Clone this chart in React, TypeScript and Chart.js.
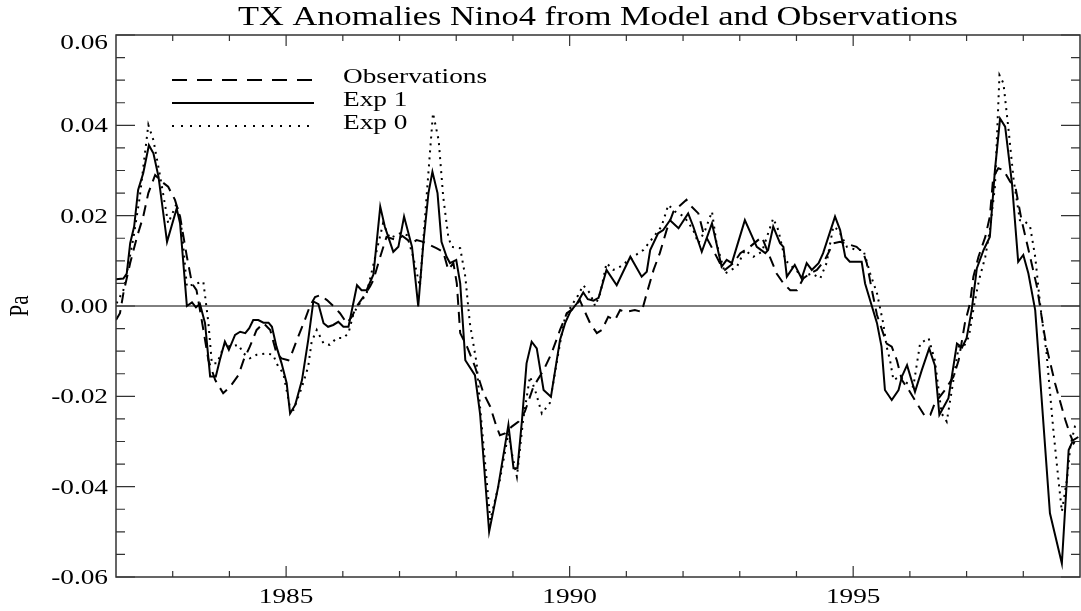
import React, { useEffect, useRef } from "react";
import { Chart, registerables } from "chart.js";

Chart.register(...registerables);

const chartTitle = "TX Anomalies Nino4 from Model and Observations";
const yAxisLabel = "Pa";
const seriesNames = ["Observations", "Exp 1", "Exp 0"];
const xRange = [1982, 1999];
const yRange = [-0.06, 0.06];
const xMajorTicks = [1985, 1990, 1995];
const xTickLabels = ["1985", "1990", "1995"];
const xMinorTicks = [1983, 1984, 1986, 1987, 1988, 1989, 1991, 1992, 1993, 1994, 1996, 1997, 1998];
const yMajorTicks = [-0.06, -0.04, -0.02, 0, 0.02, 0.04, 0.06];
const yTickLabels = ["-0.06", "-0.04", "-0.02", "0.00", "0.02", "0.04", "0.06"];
const yMinorTicks = [-0.055, -0.05, -0.045, -0.035, -0.03, -0.025, -0.015, -0.01, -0.005, 0.005, 0.01, 0.015, 0.025, 0.03, 0.035, 0.045, 0.05, 0.055];

// Observations (dashed)
const obsYears = [
  1982.00, 1982.07, 1982.13, 1982.25, 1982.37, 1982.48, 1982.57, 1982.69, 1982.81, 1982.92,
  1983.04, 1983.13, 1983.25, 1983.34, 1983.42, 1983.51, 1983.63, 1983.75, 1983.89, 1984.01,
  1984.16, 1984.25, 1984.36, 1984.48, 1984.60, 1984.72, 1984.83, 1984.92, 1985.04, 1985.10,
  1985.19, 1985.33, 1985.42, 1985.51, 1985.60, 1985.72, 1985.83, 1985.95, 1986.07, 1986.16,
  1986.25, 1986.36, 1986.48, 1986.54, 1986.66, 1986.77, 1986.95, 1987.05, 1987.22, 1987.30,
  1987.42, 1987.65, 1987.77, 1987.86, 1987.95, 1988.01, 1988.07, 1988.19, 1988.33, 1988.48,
  1988.60, 1988.71, 1988.77, 1988.86, 1988.98, 1989.10, 1989.21, 1989.36, 1989.54, 1989.68,
  1989.83, 1989.95, 1990.07, 1990.18, 1990.27, 1990.36, 1990.48, 1990.57, 1990.68, 1990.80,
  1990.89, 1990.98, 1991.15, 1991.27, 1991.36, 1991.48, 1991.59, 1991.71, 1991.83, 1992.06,
  1992.12, 1992.27, 1992.36, 1992.42, 1992.53, 1992.65, 1992.74, 1992.89, 1993.01, 1993.15,
  1993.39, 1993.53, 1993.65, 1993.77, 1993.89, 1994.01, 1994.12, 1994.24, 1994.36, 1994.50,
  1994.65, 1994.77, 1995.06, 1995.18, 1995.24, 1995.33, 1995.42, 1995.59, 1995.68, 1995.77,
  1995.86, 1995.98, 1996.12, 1996.27, 1996.36, 1996.44, 1996.62, 1996.77, 1996.86, 1996.97,
  1997.06, 1997.12, 1997.21, 1997.33, 1997.41, 1997.47, 1997.56, 1997.65, 1997.77, 1997.86,
  1997.97, 1998.12, 1998.24, 1998.36, 1998.42, 1998.56, 1998.74, 1998.83, 1998.89, 1998.97,
];
const obsValues = [
  -0.0031, -0.0016, 0.0028, 0.0095, 0.0153, 0.0198, 0.0250, 0.0290, 0.0275, 0.0264,
  0.0235, 0.0198, 0.0109, 0.0050, 0.0035, -0.0030, -0.0120, -0.0164, -0.0193, -0.0179,
  -0.0153, -0.0120, -0.0090, -0.0053, -0.0038, -0.0053, -0.0105, -0.0116, -0.0120, -0.0105,
  -0.0075, -0.0031, 0.0000, 0.0020, 0.0024, 0.0013, 0.0000, -0.0016, -0.0038, -0.0024,
  0.0000, 0.0020, 0.0043, 0.0058, 0.0109, 0.0153, 0.0146, 0.0155, 0.0139, 0.0146,
  0.0142, 0.0128, 0.0120, 0.0080, 0.0095, 0.0050, -0.0060, -0.0090, -0.0134, -0.0193,
  -0.0223, -0.0267, -0.0286, -0.0282, -0.0267, -0.0256, -0.0234, -0.0179, -0.0142, -0.0105,
  -0.0053, -0.0016, -0.0005, 0.0013, -0.0013, -0.0038, -0.0060, -0.0053, -0.0024, -0.0031,
  -0.0009, -0.0013, -0.0009, -0.0013, 0.0028, 0.0080, 0.0117, 0.0168, 0.0209, 0.0235,
  0.0224, 0.0205, 0.0161, 0.0150, 0.0124, 0.0095, 0.0080, 0.0095, 0.0117, 0.0128,
  0.0153, 0.0109, 0.0072, 0.0050, 0.0035, 0.0035, 0.0061, 0.0072, 0.0080, 0.0102,
  0.0139, 0.0142, 0.0131, 0.0117, 0.0095, 0.0035, -0.0020, -0.0083, -0.0090, -0.0120,
  -0.0164, -0.0186, -0.0215, -0.0245, -0.0241, -0.0215, -0.0186, -0.0156, -0.0120, -0.0038,
  0.0006, 0.0065, 0.0109, 0.0153, 0.0198, 0.0286, 0.0305, 0.0301, 0.0275, 0.0264,
  0.0190, 0.0109, 0.0043, -0.0053, -0.0097, -0.0171, -0.0252, -0.0286, -0.0304, -0.0290,
];

// Exp 1 (solid)
const exp1Years = [
  1982.00, 1982.13, 1982.19, 1982.25, 1982.32, 1982.39, 1982.48, 1982.58, 1982.66, 1982.75,
  1982.90, 1983.07, 1983.13, 1983.25, 1983.34, 1983.41, 1983.48, 1983.57, 1983.66, 1983.76,
  1983.83, 1983.92, 1983.99, 1984.10, 1984.19, 1984.28, 1984.35, 1984.42, 1984.51, 1984.60,
  1984.69, 1984.75, 1984.83, 1984.92, 1985.01, 1985.07, 1985.16, 1985.28, 1985.39, 1985.48,
  1985.57, 1985.66, 1985.74, 1985.83, 1985.92, 1986.01, 1986.10, 1986.25, 1986.33, 1986.42,
  1986.54, 1986.66, 1986.74, 1986.89, 1986.98, 1987.08, 1987.22, 1987.33, 1987.42, 1987.51,
  1987.58, 1987.67, 1987.74, 1987.83, 1987.89, 1988.00, 1988.07, 1988.16, 1988.33, 1988.42,
  1988.58, 1988.74, 1988.92, 1989.01, 1989.08, 1989.16, 1989.24, 1989.33, 1989.42, 1989.54,
  1989.67, 1989.83, 1989.92, 1990.01, 1990.13, 1990.24, 1990.32, 1990.42, 1990.51, 1990.65,
  1990.83, 1991.07, 1991.27, 1991.36, 1991.42, 1991.56, 1991.65, 1991.77, 1991.92, 1992.09,
  1992.18, 1992.33, 1992.51, 1992.68, 1992.77, 1992.86, 1993.09, 1993.30, 1993.45, 1993.50,
  1993.59, 1993.71, 1993.77, 1993.83, 1993.97, 1994.09, 1994.18, 1994.27, 1994.39, 1994.47,
  1994.68, 1994.77, 1994.86, 1994.94, 1995.15, 1995.21, 1995.42, 1995.50, 1995.56, 1995.68,
  1995.80, 1995.86, 1995.95, 1996.09, 1996.21, 1996.34, 1996.44, 1996.52, 1996.68, 1996.83,
  1996.92, 1997.00, 1997.09, 1997.18, 1997.30, 1997.41, 1997.50, 1997.59, 1997.68, 1997.80,
  1997.91, 1998.00, 1998.09, 1998.21, 1998.47, 1998.68, 1998.80, 1998.88, 1998.97,
];
const exp1Values = [
  0.0059, 0.0061, 0.0072, 0.0139, 0.0176, 0.0257, 0.0294, 0.0356, 0.0338, 0.0286,
  0.0142, 0.0216, 0.0183, 0.0000, 0.0008, -0.0003, 0.0005, -0.0038, -0.0156, -0.0156,
  -0.0120, -0.0079, -0.0097, -0.0064, -0.0057, -0.0060, -0.0049, -0.0031, -0.0031, -0.0037,
  -0.0037, -0.0046, -0.0090, -0.0127, -0.0171, -0.0238, -0.0219, -0.0164, -0.0075, 0.0010,
  0.0004, -0.0038, -0.0046, -0.0042, -0.0035, -0.0046, -0.0046, 0.0046, 0.0035, 0.0035,
  0.0070, 0.0220, 0.0176, 0.0120, 0.0131, 0.0198, 0.0131, -0.0001, 0.0139, 0.0250,
  0.0297, 0.0250, 0.0142, 0.0109, 0.0095, 0.0102, 0.0050, -0.0120, -0.0153, -0.0238,
  -0.0500, -0.0400, -0.0263, -0.0359, -0.0359, -0.0252, -0.0127, -0.0079, -0.0094, -0.0186,
  -0.0201, -0.0075, -0.0038, -0.0013, 0.0006, 0.0030, 0.0015, 0.0012, 0.0018, 0.0080,
  0.0046, 0.0109, 0.0065, 0.0076, 0.0124, 0.0161, 0.0168, 0.0190, 0.0172, 0.0205,
  0.0176, 0.0120, 0.0183, 0.0087, 0.0102, 0.0095, 0.0190, 0.0131, 0.0117, 0.0124,
  0.0176, 0.0139, 0.0131, 0.0065, 0.0091, 0.0061, 0.0095, 0.0080, 0.0095, 0.0117,
  0.0198, 0.0168, 0.0109, 0.0098, 0.0098, 0.0050, -0.0038, -0.0090, -0.0186, -0.0208,
  -0.0186, -0.0156, -0.0131, -0.0190, -0.0142, -0.0094, -0.0131, -0.0241, -0.0204, -0.0083,
  -0.0092, -0.0071, -0.0009, 0.0083, 0.0124, 0.0153, 0.0301, 0.0415, 0.0397, 0.0272,
  0.0098, 0.0113, 0.0072, -0.0009, -0.0459, -0.0570, -0.0319, -0.0297, -0.0290,
];

// Exp 0 (dotted)
const exp0Years = [
  1982.01, 1982.13, 1982.19, 1982.31, 1982.42, 1982.57, 1982.66, 1982.78, 1982.92, 1983.07,
  1983.16, 1983.25, 1983.42, 1983.54, 1983.63, 1983.69, 1983.78, 1983.83, 1983.92, 1984.01,
  1984.16, 1984.25, 1984.36, 1984.48, 1984.66, 1984.77, 1984.86, 1984.95, 1985.07, 1985.13,
  1985.28, 1985.39, 1985.45, 1985.54, 1985.66, 1985.77, 1985.89, 1986.01, 1986.10, 1986.19,
  1986.30, 1986.42, 1986.60, 1986.71, 1986.83, 1987.01, 1987.13, 1987.24, 1987.36, 1987.45,
  1987.59, 1987.69, 1987.77, 1987.86, 1987.92, 1988.07, 1988.16, 1988.24, 1988.36, 1988.42,
  1988.60, 1988.77, 1988.92, 1988.98, 1989.07, 1989.18, 1989.30, 1989.39, 1989.51, 1989.60,
  1989.65, 1989.83, 1989.92, 1990.04, 1990.15, 1990.24, 1990.36, 1990.45, 1990.54, 1990.65,
  1990.77, 1990.89, 1991.12, 1991.30, 1991.48, 1991.62, 1991.74, 1991.86, 1992.02, 1992.18,
  1992.27, 1992.39, 1992.51, 1992.59, 1992.74, 1992.95, 1993.09, 1993.24, 1993.39, 1993.59,
  1993.68, 1993.80, 1993.98, 1994.12, 1994.27, 1994.42, 1994.53, 1994.65, 1994.74, 1994.89,
  1995.06, 1995.18, 1995.30, 1995.42, 1995.53, 1995.59, 1995.65, 1995.71, 1995.83, 1995.95,
  1996.06, 1996.18, 1996.33, 1996.44, 1996.56, 1996.65, 1996.74, 1996.86, 1996.95, 1997.04,
  1997.13, 1997.22, 1997.33, 1997.41, 1997.50, 1997.58, 1997.65, 1997.74, 1997.83, 1997.94,
  1998.03, 1998.12, 1998.21, 1998.30, 1998.41, 1998.53, 1998.62, 1998.68, 1998.77, 1998.83,
  1998.91, 1998.97,
];
const exp0Values = [
  0.0006, 0.0035, 0.0072, 0.0153, 0.0242, 0.0401, 0.0367, 0.0286, 0.0183, 0.0227,
  0.0168, 0.0043, 0.0050, 0.0054, -0.0038, -0.0127, -0.0127, -0.0112, -0.0083, -0.0090,
  -0.0086, -0.0105, -0.0116, -0.0108, -0.0105, -0.0108, -0.0134, -0.0149, -0.0226, -0.0230,
  -0.0179, -0.0134, -0.0079, -0.0053, -0.0083, -0.0086, -0.0071, -0.0071, -0.0060, -0.0016,
  0.0006, 0.0028, 0.0124, 0.0183, 0.0150, 0.0161, 0.0157, 0.0109, 0.0043, 0.0198,
  0.0427, 0.0367, 0.0242, 0.0153, 0.0131, 0.0128, 0.0065, -0.0038, -0.0127, -0.0223,
  -0.0474, -0.0385, -0.0282, -0.0326, -0.0378, -0.0252, -0.0156, -0.0186, -0.0238, -0.0223,
  -0.0215, -0.0083, -0.0024, 0.0002, 0.0024, 0.0046, 0.0028, 0.0000, 0.0028, 0.0095,
  0.0080, 0.0087, 0.0109, 0.0124, 0.0153, 0.0176, 0.0224, 0.0209, 0.0198, 0.0168,
  0.0139, 0.0168, 0.0209, 0.0139, 0.0072, 0.0087, 0.0124, 0.0109, 0.0120, 0.0194,
  0.0168, 0.0102, 0.0080, 0.0065, 0.0072, 0.0061, 0.0095, 0.0176, 0.0168, 0.0131,
  0.0124, 0.0124, 0.0072, 0.0028, -0.0038, -0.0090, -0.0120, -0.0164, -0.0156, -0.0171,
  -0.0179, -0.0083, -0.0071, -0.0120, -0.0238, -0.0256, -0.0186, -0.0090, -0.0090, -0.0068,
  0.0000, 0.0058, 0.0109, 0.0168, 0.0264, 0.0511, 0.0493, 0.0390, 0.0279, 0.0190,
  0.0187, 0.0176, 0.0109, 0.0000, -0.0105, -0.0275, -0.0385, -0.0455, -0.0385, -0.0310,
  -0.0267, -0.0270,
];

const zeroLineYears = [1982, 1999];
const zeroLineValues = [0, 0];

const SERIF = '"Liberation Serif", "Times New Roman", serif';
const STRETCH = 1.3;

function toPoints(xs: number[], ys: number[]) {
  return xs.map((x, i) => ({ x, y: ys[i] }));
}

function stretchedText(
  ctx: CanvasRenderingContext2D,
  text: string,
  x: number,
  y: number,
  align: CanvasTextAlign,
  sx: number
) {
  ctx.save();
  ctx.translate(x, y);
  ctx.scale(sx, 1);
  ctx.textAlign = align;
  ctx.textBaseline = "alphabetic";
  ctx.fillText(text, 0, 0);
  ctx.restore();
}

const frameTextPlugin = {
  id: "frameText",
  afterDraw(chart: any) {
    const ctx: CanvasRenderingContext2D = chart.ctx;
    const area = chart.chartArea;
    const xs = chart.scales.x;
    const ys = chart.scales.y;
    ctx.save();

    // frame
    ctx.strokeStyle = "#333";
    ctx.lineWidth = 1.5;
    ctx.strokeRect(area.left, area.top, area.right - area.left, area.bottom - area.top);

    // ticks
    ctx.lineWidth = 1.2;
    ctx.beginPath();
    const xt = (v: number, len: number) => {
      const px = xs.getPixelForValue(v);
      ctx.moveTo(px, area.bottom);
      ctx.lineTo(px, area.bottom - len);
      ctx.moveTo(px, area.top);
      ctx.lineTo(px, area.top + len);
    };
    const yt = (v: number, len: number) => {
      const py = ys.getPixelForValue(v);
      ctx.moveTo(area.left, py);
      ctx.lineTo(area.left + len, py);
      ctx.moveTo(area.right, py);
      ctx.lineTo(area.right - len, py);
    };
    xMajorTicks.forEach((v) => xt(v, 11));
    xMinorTicks.forEach((v) => xt(v, 6));
    yMajorTicks.forEach((v) => yt(v, 19));
    yMinorTicks.forEach((v) => yt(v, 9));
    ctx.stroke();

    ctx.fillStyle = "#000";
    // x tick labels
    ctx.font = `21px ${SERIF}`;
    xMajorTicks.forEach((v, i) => {
      stretchedText(ctx, xTickLabels[i], xs.getPixelForValue(v), area.bottom + 26, "center", STRETCH);
    });
    // y tick labels
    yMajorTicks.forEach((v, i) => {
      const py = ys.getPixelForValue(v);
      const base = Math.max(py + 7, area.top + 14);
      stretchedText(ctx, yTickLabels[i], area.left - 8, base, "right", STRETCH);
    });

    // y axis title (rotated)
    ctx.save();
    ctx.translate(21, (area.top + area.bottom) / 2);
    ctx.scale(STRETCH, 1);
    ctx.rotate(-Math.PI / 2);
    ctx.font = `21px ${SERIF}`;
    ctx.textAlign = "center";
    ctx.textBaseline = "middle";
    ctx.fillText(yAxisLabel, 0, 0);
    ctx.restore();

    // title
    ctx.font = `27px ${SERIF}`;
    const tw = ctx.measureText(chartTitle).width;
    const titleSx = 720 / tw;
    stretchedText(ctx, chartTitle, (area.left + area.right) / 2, 25, "center", titleSx);

    // legend
    const lx0 = area.left + 56;
    const lx1 = area.left + 198;
    const rows = [
      { y: area.top + 45, dash: [15, 10], width: 2 },
      { y: area.top + 68, dash: [], width: 2 },
      { y: area.top + 91, dash: [2, 7], width: 2 },
    ];
    rows.forEach((r, i) => {
      ctx.save();
      ctx.strokeStyle = "#000";
      ctx.lineWidth = r.width;
      ctx.setLineDash(r.dash);
      ctx.beginPath();
      ctx.moveTo(lx0, r.y);
      ctx.lineTo(lx1, r.y);
      ctx.stroke();
      ctx.restore();
      ctx.font = `21px ${SERIF}`;
      stretchedText(ctx, seriesNames[i], area.left + 227, r.y + 3, "left", STRETCH);
    });

    ctx.restore();
  },
};

export default function App() {
  const canvasRef = useRef<HTMLCanvasElement | null>(null);

  useEffect(() => {
    document.body.style.margin = "0";
    const canvas = canvasRef.current;
    if (!canvas) return;
    const chart = new Chart(canvas, {
      type: "line",
      data: {
        datasets: [
          {
            label: "zero",
            data: toPoints(zeroLineYears, zeroLineValues),
            borderColor: "#000",
            borderWidth: 1,
            pointRadius: 0,
            fill: false,
          },
          {
            label: seriesNames[0],
            data: toPoints(obsYears, obsValues),
            borderColor: "#000",
            borderWidth: 2,
            borderDash: [11, 7],
            pointRadius: 0,
            tension: 0,
            fill: false,
          },
          {
            label: seriesNames[1],
            data: toPoints(exp1Years, exp1Values),
            borderColor: "#000",
            borderWidth: 2,
            pointRadius: 0,
            tension: 0,
            fill: false,
          },
          {
            label: seriesNames[2],
            data: toPoints(exp0Years, exp0Values),
            borderColor: "#000",
            borderWidth: 2,
            borderDash: [2, 5],
            pointRadius: 0,
            tension: 0,
            fill: false,
          },
        ],
      },
      options: {
        responsive: false,
        animation: false,
        devicePixelRatio: 1,
        layout: { padding: { left: 116, right: 1, top: 35, bottom: 34 } },
        plugins: {
          legend: { display: false },
          title: { display: false },
          tooltip: { enabled: false },
        },
        scales: {
          x: { type: "linear", display: false, min: xRange[0], max: xRange[1] },
          y: { type: "linear", display: false, min: yRange[0], max: yRange[1] },
        },
      },
      plugins: [frameTextPlugin],
    });
    return () => chart.destroy();
  }, []);

  return (
    <canvas
      ref={canvasRef}
      width={1081}
      height={611}
      style={{ display: "block", width: 1081, height: 611 }}
    />
  );
}
